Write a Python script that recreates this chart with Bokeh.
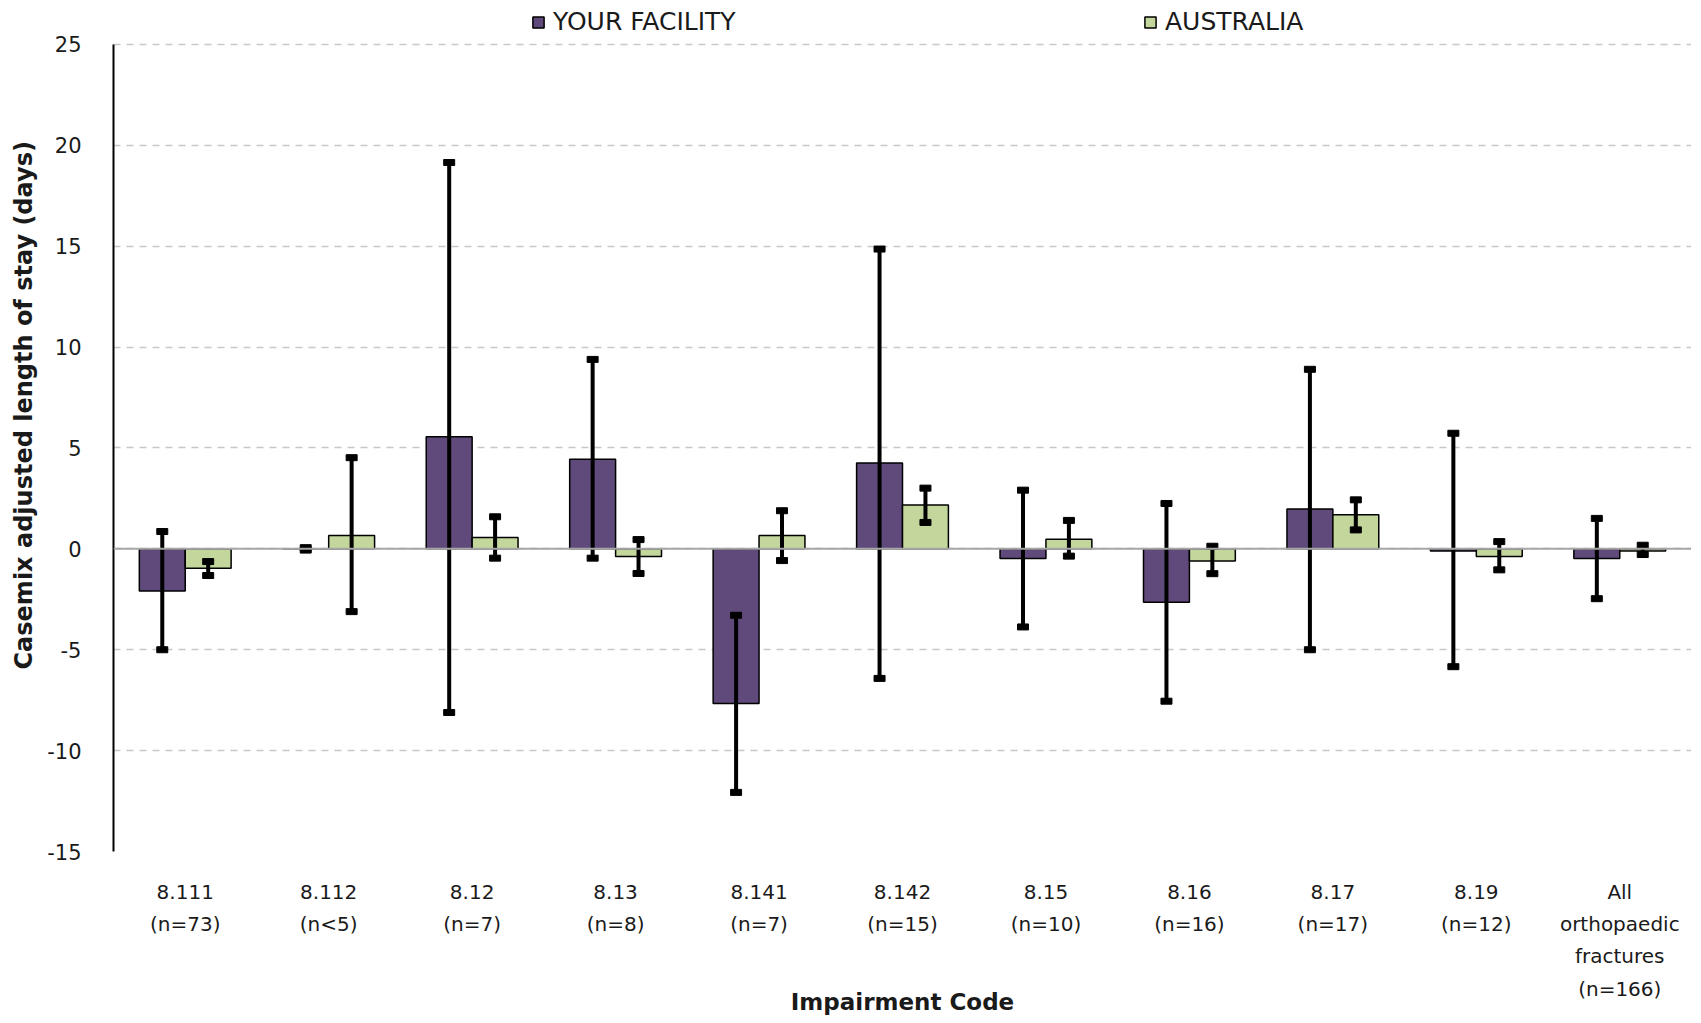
from bokeh.plotting import figure
from bokeh.models import (ColumnDataSource, FactorRange, Span, Legend, LegendItem,
                          FixedTicker, Title)
from bokeh.transform import dodge
from bokeh.embed import file_html
from bokeh.resources import INLINE

categories = ["8.111\n(n=73)", "8.112\n(n<5)", "8.12\n(n=7)", "8.13\n(n=8)", "8.141\n(n=7)",
              "8.142\n(n=15)", "8.15\n(n=10)", "8.16\n(n=16)", "8.17\n(n=17)", "8.19\n(n=12)",
              "All\northopaedic\nfractures\n(n=166)"]

facility = [-2.09, 0.0, 5.56, 4.44, -7.67, 4.25, -0.48, -2.65, 1.97, -0.10, -0.48]
facility_low = [-5.0, -0.06, -8.11, -0.46, -12.07, -6.42, -3.87, -7.55, -5.0, -5.84, -2.47]
facility_high = [0.86, 0.06, 19.15, 9.39, -3.29, 14.86, 2.91, 2.25, 8.9, 5.73, 1.51]

australia = [-0.96, 0.66, 0.56, -0.38, 0.66, 2.17, 0.48, -0.60, 1.69, -0.38, -0.10]
australia_low = [-1.32, -3.11, -0.46, -1.22, -0.58, 1.31, -0.36, -1.23, 0.94, -1.04, -0.28]
australia_high = [-0.63, 4.52, 1.59, 0.46, 1.89, 3.01, 1.41, 0.13, 2.43, 0.36, 0.18]

y_ticks = [-15, -10, -5, 0, 5, 10, 15, 20, 25]

FONT = "DejaVu Sans"
PURPLE = "#604A7B"
GREEN = "#C3D69B"
TXT = "#1a1a1a"

src = ColumnDataSource(dict(cat=categories, fac=facility, fl=facility_low, fh=facility_high,
                            aus=australia, al=australia_low, ah=australia_high))

p = figure(frame_width=1578, frame_height=851, x_range=FactorRange(factors=categories),
           y_range=(-15, 27.18), output_backend="svg", toolbar_location=None, title=None,
           min_border_left=107, min_border_right=0, min_border_top=0, min_border_bottom=0)
p.outline_line_color = None
p.background_fill_color = "white"

# grid
p.xgrid.grid_line_color = None
p.ygrid.grid_line_color = "#C8C8C8"
p.ygrid.grid_line_dash = "7 6"
p.ygrid.grid_line_width = 1.5
p.ygrid.ticker = FixedTicker(ticks=y_ticks)
p.yaxis.ticker = FixedTicker(ticks=y_ticks)
p.yaxis.bounds = (-15, 25)
p.yaxis.major_label_overrides = {t: str(t) for t in y_ticks}

# axes
p.yaxis.axis_line_color = "black"
p.yaxis.axis_line_width = 2
p.yaxis.major_tick_line_color = None
p.yaxis.minor_tick_line_color = None
p.yaxis.major_label_text_font = FONT
p.yaxis.major_label_text_font_size = "21px"
p.yaxis.major_label_text_color = TXT
p.yaxis.major_label_standoff = 26

p.xaxis.axis_line_color = None
p.xaxis.major_tick_line_color = None
p.xaxis.major_label_text_font = FONT
p.xaxis.major_label_text_font_size = "20px"
p.xaxis.major_label_text_color = TXT
p.xaxis.major_label_standoff = 22
p.xaxis.major_label_text_line_height = 1.35
p.xaxis.axis_label = "Impairment Code"
p.xaxis.axis_label_text_font = FONT
p.xaxis.axis_label_text_font_size = "23px"
p.xaxis.axis_label_text_font_style = "bold"
p.xaxis.axis_label_text_color = TXT
p.xaxis.axis_label_standoff = -15

bw = 0.32
r1 = p.vbar(x=dodge("cat", -0.16, range=p.x_range), top="fac", bottom=0, width=bw, source=src,
            fill_color=PURPLE, line_color="black", line_width=1.5)
r2 = p.vbar(x=dodge("cat", 0.16, range=p.x_range), top="aus", bottom=0, width=bw, source=src,
            fill_color=GREEN, line_color="black", line_width=1.5)

p.add_layout(Span(location=0, dimension="width", line_color="#A6A6A6", line_width=2))

for col_x, lo, hi in [(-0.16, "fl", "fh"), (0.16, "al", "ah")]:
    xx = dodge("cat", col_x, range=p.x_range)
    p.segment(x0=xx, x1=xx, y0=lo, y1=hi, source=src, line_color="black", line_width=4)
    for end in (lo, hi):
        p.rect(x=xx, y=end, width=11, height=6, width_units="screen", height_units="screen",
               source=src, fill_color="black", line_color="black")

# legend (inside the frame's top band)
leg = Legend(items=[LegendItem(label="YOUR FACILITY", renderers=[r1]),
                    LegendItem(label="AUSTRALIA", renderers=[r2])],
             orientation="horizontal", location=(418, 815), spacing=400,
             glyph_width=14, glyph_height=14, label_text_font=FONT,
             label_text_font_size="25px", label_text_color=TXT, label_width=190,
             border_line_color=None, background_fill_alpha=0, padding=0, margin=0,
             label_standoff=8)
p.add_layout(leg, "center")

# y axis title
p.add_layout(Title(text="Casemix adjusted length of stay (days)", text_font=FONT,
                   text_font_size="24px", text_font_style="bold", align="left",
                   text_color=TXT, standoff=14, offset=182), "left")

open("out.html", "w").write(file_html(p, INLINE))
